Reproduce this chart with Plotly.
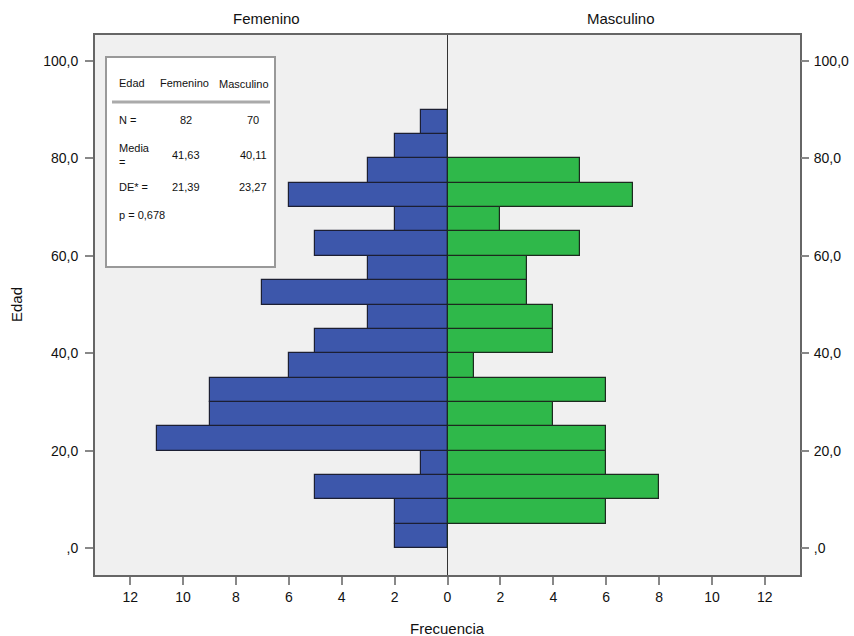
import plotly.graph_objects as go

# Data: 5-year age bins
bin_start = [0, 5, 10, 15, 20, 25, 30, 35, 40, 45, 50, 55, 60, 65, 70, 75, 80, 85]
femenino = [2, 2, 5, 1, 11, 9, 9, 6, 5, 3, 7, 3, 5, 2, 6, 3, 2, 1]
masculino = [0, 6, 8, 6, 6, 4, 6, 1, 4, 4, 3, 3, 5, 2, 7, 5, 0, 0]
bin_width = 5

x_tickvals = [-12, -10, -8, -6, -4, -2, 0, 2, 4, 6, 8, 10, 12]
x_ticktext = [str(abs(v)) for v in x_tickvals]
y_tickvals = [0, 20, 40, 60, 80, 100]
y_ticktext = [",0", "20,0", "40,0", "60,0", "80,0", "100,0"]

table_header = ["Edad", "Femenino", "Masculino"]
table_rows = [
    ["N =", "82", "70"],
    ["Media<br>=", "41,63", "40,11"],
    ["DE* =", "21,39", "23,27"],
    ["p = 0,678", "", ""],
]

centers = [b + bin_width / 2 for b in bin_start]
FONT = "Liberation Sans, Arial, Helvetica, sans-serif"

fig = go.Figure()
fig.add_trace(go.Bar(
    y=centers, x=[-v for v in femenino], base=0, orientation="h", width=bin_width,
    marker=dict(color="#3d57ab", line=dict(color="#1c1f33", width=1.2)),
    name="Femenino", showlegend=False, hoverinfo="skip"))
fig.add_trace(go.Bar(
    y=centers, x=masculino, base=0, orientation="h", width=bin_width,
    marker=dict(color="#2fb84a", line=dict(color="#1c2a1f", width=1.2)),
    name="Masculino", showlegend=False, hoverinfo="skip"))
# invisible trace for right axis
fig.add_trace(go.Scatter(x=[0], y=[0], yaxis="y2", mode="markers",
                         marker=dict(opacity=0), showlegend=False, hoverinfo="skip"))

yr = [-5.5, 105.3]
fig.update_layout(
    width=854, height=636,
    margin=dict(l=95, r=54, t=35, b=61, autoexpand=False),
    paper_bgcolor="white", plot_bgcolor="#f0f0f0",
    barmode="overlay", bargap=0,
    font=dict(family=FONT, size=14, color="#111"),
    xaxis=dict(range=[-13.33, 13.33], tickvals=x_tickvals, ticktext=x_ticktext,
               ticks="outside", ticklen=8, tickwidth=2, tickcolor="#888",
               showline=True, linecolor="#666", linewidth=2, mirror=True,
               showgrid=False, zeroline=True, zerolinecolor="#333", zerolinewidth=1.2,
               automargin=False, tickfont=dict(size=14)),
    yaxis=dict(range=yr, tickvals=y_tickvals, ticktext=y_ticktext,
               ticks="outside", ticklen=8, tickwidth=2, tickcolor="#888",
               showline=True, linecolor="#666", linewidth=2, mirror=True,
               showgrid=False, zeroline=False, automargin=False, tickfont=dict(size=14),
               ticklabelstandoff=4),
    yaxis2=dict(range=yr, tickvals=y_tickvals, ticktext=y_ticktext, overlaying="y",
                side="right", ticks="outside", ticklen=8, tickwidth=2, tickcolor="#888",
                showline=False, showgrid=False, zeroline=False, automargin=False,
                tickfont=dict(size=14), ticklabelstandoff=2),
)

plot_l, plot_r, plot_t, plot_b = 95, 800, 35, 575
def px(x):
    return (x - plot_l) / (plot_r - plot_l)
def py(y):
    return 1 - (y - plot_t) / (plot_b - plot_t)

def note(x, y, text, size=11, xanchor="center", **kw):
    fig.add_annotation(x=px(x), y=py(y), xref="paper", yref="paper", text=text,
                       showarrow=False, xanchor=xanchor, yanchor="middle",
                       font=dict(size=size), **kw)

# Axis titles
note(447, 628, "Frecuencia", size=15)
note(16, 305, "Edad", size=15, textangle=-90)

# Panel headers
note(266, 18, "Femenino", size=15)
note(621, 18, "Masculino", size=15)

# Inset table
fig.add_shape(type="rect", xref="paper", yref="paper",
              x0=px(106), x1=px(275), y0=py(267), y1=py(57),
              fillcolor="white", line=dict(color="#999", width=2))
fig.add_shape(type="line", xref="paper", yref="paper",
              x0=px(112), x1=px(270), y0=py(102), y1=py(102),
              line=dict(color="#aaa", width=3))

note(117, 83, table_header[0], xanchor="left")
note(184, 83, table_header[1])
note(244, 84, table_header[2])

row_y = [120, 155, 187, 215]
for (lab, f, m), yy in zip(table_rows, row_y):
    note(117, yy, lab, xanchor="left", align="left")
    if f:
        note(186, yy, f)
    if m:
        note(253, yy, m)

fig.write_html("out.html", config={"displayModeBar": False},
               post_script="document.body.style.margin='0';document.body.style.overflow='hidden';")
